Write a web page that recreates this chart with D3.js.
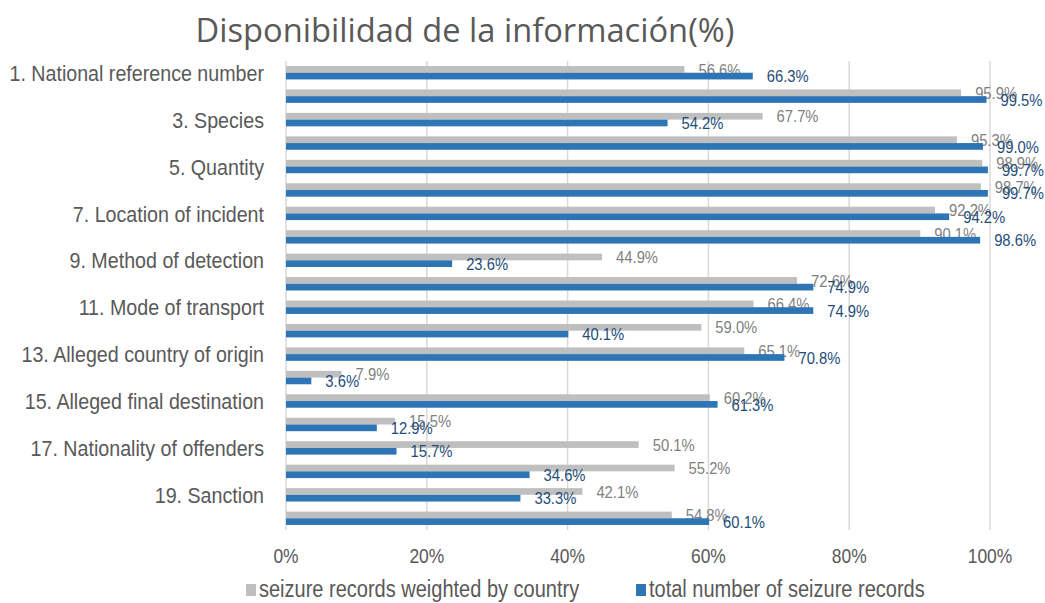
<!DOCTYPE html>
<html>
<head>
<meta charset="utf-8">
<script src="https://cdn.jsdelivr.net/npm/d3@7"></script>
<style>
  body { margin: 0; background: #fff; }
  text { font-family: "Liberation Sans", Arial, sans-serif; }
</style>
</head>
<body>
<div id="chart"></div>
<script>
// data
var categories = d3.range(1, 21);
var categoryLabels = {
    1: "1. National reference number",
    3: "3. Species",
    5: "5. Quantity",
    7: "7. Location of incident",
    9: "9. Method of detection",
    11: "11. Mode of transport",
    13: "13. Alleged country of origin",
    15: "15. Alleged final destination",
    17: "17. Nationality of offenders",
    19: "19. Sanction"
};
var weighted = [56.6, 95.9, 67.7, 95.3, 98.9, 98.7, 92.2, 90.1, 44.9, 72.6,
                66.4, 59.0, 65.1, 7.9, 60.2, 15.5, 50.1, 55.2, 42.1, 54.8];
var total = [66.3, 99.5, 54.2, 99.0, 99.7, 99.7, 94.2, 98.6, 23.6, 74.9,
             74.9, 40.1, 70.8, 3.6, 61.3, 12.9, 15.7, 34.6, 33.3, 60.1];
var xTicks = [0, 20, 40, 60, 80, 100];
var seriesNames = ["seizure records weighted by country", "total number of seizure records"];

var width = 1045, height = 603;
var plotLeft = 286, plotRight = 990, plotTop = 61, plotBottom = 530;
var grey = "#bfbfbf", blue = "#2e75b6";
var narrow = 0.87;   // fake a condensed font

var svg = d3.select("#chart").append("svg")
    .attr("width", width)
    .attr("height", height);

var x = d3.scaleLinear().domain([0, 100]).range([plotLeft, plotRight]);
var y = d3.scaleBand().domain(categories).range([plotTop, plotBottom]);
var barH = 6.7;

function place(px, py) {
    return "translate(" + px + "," + py + ") scale(" + narrow + ",1)";
}

// title, fitted to the width in the picture
var title = svg.append("text")
    .attr("x", 465)
    .attr("y", 42)
    .attr("text-anchor", "middle")
    .style("font-family", "'Open Sans', sans-serif")
    .style("font-size", "30px")
    .attr("fill", "#595959")
    .text("Disponibilidad de la información(%)");
var tw = title.node().getComputedTextLength();
title.style("font-size", (30 * 539 / tw) + "px");

// gridlines
svg.append("g").selectAll("line")
    .data(xTicks)
    .enter().append("line")
    .attr("x1", function(d){ return x(d); })
    .attr("x2", function(d){ return x(d); })
    .attr("y1", plotTop)
    .attr("y2", plotBottom)
    .attr("stroke", "#d9d9d9")
    .attr("stroke-width", 1.5);

// x tick labels
svg.append("g").selectAll("text")
    .data(xTicks)
    .enter().append("text")
    .attr("transform", function(d){ return place(x(d), 563); })
    .attr("text-anchor", "middle")
    .attr("fill", "#595959")
    .style("font-size", "20px")
    .text(function(d){ return d + "%"; });

// category labels (every other one, like the original)
svg.append("g").selectAll("text")
    .data(categories.filter(function(c){ return categoryLabels[c]; }))
    .enter().append("text")
    .attr("transform", function(d){ return place(264, y(d) + y.bandwidth() / 2); })
    .attr("dy", "0.36em")
    .attr("text-anchor", "end")
    .attr("fill", "#595959")
    .style("font-size", "22.6px")
    .text(function(d){ return categoryLabels[d]; });

// bars
var series = [
    {name: seriesNames[0], values: weighted, color: grey, labelColor: "#7f7f7f", off: -barH},
    {name: seriesNames[1], values: total, color: blue, labelColor: "#1f4e79", off: 0}
];

series.forEach(function(s) {
    var g = svg.append("g");
    g.selectAll("rect")
        .data(s.values)
        .enter().append("rect")
        .attr("x", x(0))
        .attr("y", function(d, i){ return y(categories[i]) + y.bandwidth() / 2 + s.off; })
        .attr("width", function(d){ return x(d) - x(0); })
        .attr("height", barH)
        .attr("fill", s.color);
    g.selectAll("text")
        .data(s.values)
        .enter().append("text")
        .attr("transform", function(d, i){
            return place(x(d) + 14, y(categories[i]) + y.bandwidth() / 2 + s.off + barH / 2);
        })
        .attr("dy", "0.36em")
        .attr("fill", s.labelColor)
        .style("font-size", "17px")
        .text(function(d){ return d.toFixed(1) + "%"; });
});

// legend
var legend = svg.append("g");
var legendX = [246, 636];
series.forEach(function(s, i) {
    legend.append("rect")
        .attr("x", legendX[i])
        .attr("y", 584)
        .attr("width", 10)
        .attr("height", 12)
        .attr("fill", s.color);
    legend.append("text")
        .attr("transform", place(legendX[i] + 13, 589))
        .attr("dy", "0.36em")
        .attr("fill", "#595959")
        .style("font-size", "23px")
        .text(s.name);
});
</script>
</body>
</html>
